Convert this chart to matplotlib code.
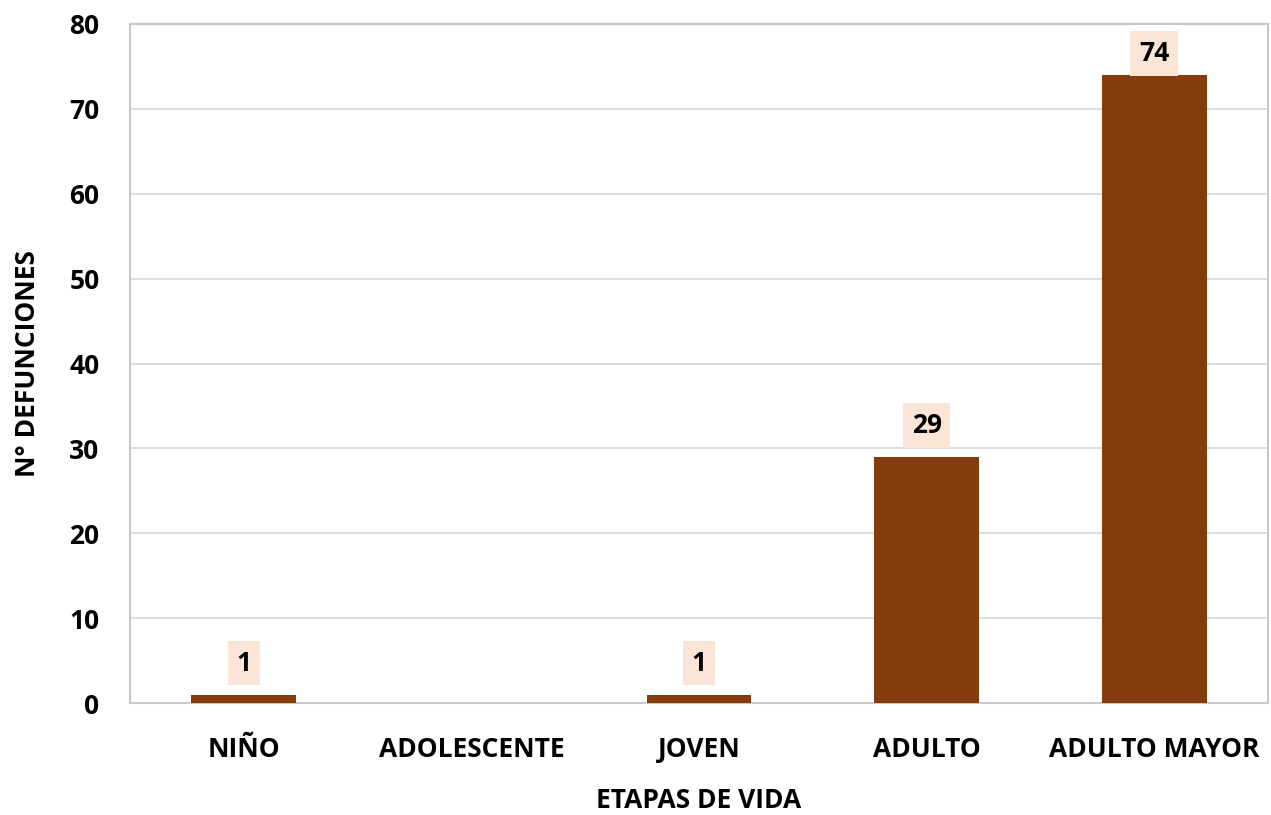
import matplotlib
matplotlib.use("Agg")
import matplotlib.pyplot as plt

etapas = ["NIÑO", "ADOLESCENTE", "JOVEN", "ADULTO", "ADULTO MAYOR"]
defunciones = [1, 0, 1, 29, 74]
yticks = [0, 10, 20, 30, 40, 50, 60, 70, 80]

plt.rcParams['font.family'] = ['Open Sans', 'DejaVu Sans']
plt.rcParams['font.weight'] = 'bold'

fig = plt.figure(figsize=(12.71, 8.15), dpi=100)
ax = fig.add_axes([130 / 1271, 1 - 703 / 815, 1138 / 1271, 679 / 815])

x = range(len(etapas))
ax.bar(x, defunciones, width=0.46, color="#843C0C", zorder=3)

# data labels, kept inside the plot area like excel does
for i, v in zip(x, defunciones):
    if v == 0:
        continue
    ax.text(i, min(v + 3.7, 76.5), str(v), ha="center", va="center",
            fontsize=19, fontweight="bold", color="black", zorder=4,
            bbox=dict(boxstyle="square,pad=0.33", fc="#FBE5D6", ec="none"))

ax.set_xlim(-0.5, len(etapas) - 0.5)
ax.set_ylim(0, 80)
ax.set_yticks(yticks)
ax.set_xticks(list(x))
ax.set_xticklabels(etapas)
ax.tick_params(length=0, labelsize=19, pad=22)
ax.tick_params(axis="x", pad=24)
for lab in ax.get_xticklabels() + ax.get_yticklabels():
    lab.set_fontweight("bold")

ax.yaxis.grid(True, color="#D9D9D9", linewidth=1.3, zorder=0)
ax.set_axisbelow(True)
for s in ax.spines.values():
    s.set_color("#C8C8C8")
    s.set_linewidth(1.5)

ax.set_xlabel("ETAPAS DE VIDA", fontsize=19, fontweight="bold", labelpad=17)
ax.set_ylabel("N° DEFUNCIONES", fontsize=19, fontweight="bold", labelpad=20)

fig.savefig("out.png", dpi=100)
